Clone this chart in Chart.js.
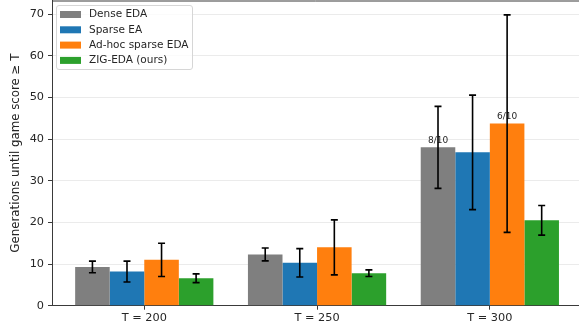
<!DOCTYPE html>
<html>
<head>
<meta charset="utf-8">
<script src="https://cdn.jsdelivr.net/npm/chart.js@4/dist/chart.umd.min.js"></script>
<style>
  html, body { margin: 0; padding: 0; background: #fff; }
  #c { display: block; }
</style>
</head>
<body>
<canvas id="c" width="579" height="331"></canvas>
<script>
// Score thresholds on the x axis
const categories = ['T = 200', 'T = 250', 'T = 300'];
const yTicks = [0, 10, 20, 30, 40, 50, 60, 70];

// Mean generations until the threshold is reached, with standard deviations
const denseEda      = [9.3, 12.3, 38.0];
const denseEdaSd    = [1.4, 1.55, 9.85];
const sparseEa      = [8.2, 10.3, 36.8];
const sparseEaSd    = [2.5, 3.4, 13.75];
const adhocEda      = [11.0, 14.0, 43.7];
const adhocEdaSd    = [4.0, 6.6, 26.1];
const zigEda        = [6.6, 7.8, 20.5];
const zigEdaSd      = [1.05, 0.8, 3.55];

// Runs that reached the threshold (shown only where not all 10 did)
const denseEdaRuns  = [null, null, '8/10'];
const sparseEaRuns  = [null, null, null];
const adhocEdaRuns  = [null, null, '6/10'];
const zigEdaRuns    = [null, null, null];

const FONT = '"DejaVu Sans", sans-serif';
const TEXT = '#262626';
const SPINE = '#3a3a3a';

function series(label, values, sd, runs, color) {
  return {
    label,
    data: values.map((v, i) => ({ x: i, y: v })),
    sd,
    runs,
    backgroundColor: color,
    borderWidth: 0,
    barPercentage: 1.0,
    categoryPercentage: 0.8
  };
}

// Error bars and run counts on top of the bars
const barExtras = {
  id: 'barExtras',
  afterDatasetsDraw(chart) {
    const ctx = chart.ctx;
    const y = chart.scales.y;
    chart.data.datasets.forEach((ds, di) => {
      const meta = chart.getDatasetMeta(di);
      meta.data.forEach((bar, i) => {
        const v = ds.data[i].y;
        if (ds.runs[i]) {
          ctx.save();
          ctx.font = '9px ' + FONT;
          ctx.fillStyle = TEXT;
          ctx.textAlign = 'center';
          ctx.textBaseline = 'bottom';
          ctx.fillText(ds.runs[i], bar.x, y.getPixelForValue(v) - 2);
          ctx.restore();
        }
        const top = y.getPixelForValue(v + ds.sd[i]);
        const bot = y.getPixelForValue(v - ds.sd[i]);
        ctx.save();
        ctx.strokeStyle = '#000';
        ctx.lineWidth = 1.6;
        ctx.beginPath();
        ctx.moveTo(bar.x, top); ctx.lineTo(bar.x, bot);
        ctx.moveTo(bar.x - 3.5, top); ctx.lineTo(bar.x + 3.5, top);
        ctx.moveTo(bar.x - 3.5, bot); ctx.lineTo(bar.x + 3.5, bot);
        ctx.stroke();
        ctx.restore();
      });
    });
  }
};

// Top frame line and the boxed legend inside the plot
const frameAndLegend = {
  id: 'frameAndLegend',
  afterDraw(chart) {
    const ctx = chart.ctx;
    const a = chart.chartArea;
    ctx.save();
    ctx.strokeStyle = SPINE;
    ctx.lineWidth = 1;
    ctx.beginPath();
    ctx.moveTo(a.left, a.top + 0.5);
    ctx.lineTo(a.right, a.top + 0.5);
    ctx.stroke();

    const x0 = 56.5, y0 = 5.5, w = 136, h = 64, r = 2.5;
    ctx.beginPath();
    ctx.moveTo(x0 + r, y0);
    ctx.arcTo(x0 + w, y0, x0 + w, y0 + h, r);
    ctx.arcTo(x0 + w, y0 + h, x0, y0 + h, r);
    ctx.arcTo(x0, y0 + h, x0, y0, r);
    ctx.arcTo(x0, y0, x0 + w, y0, r);
    ctx.closePath();
    ctx.fillStyle = 'rgba(255,255,255,0.8)';
    ctx.fill();
    ctx.strokeStyle = '#d6d6d6';
    ctx.lineWidth = 1;
    ctx.stroke();

    ctx.font = '10.5px ' + FONT;
    ctx.textBaseline = 'middle';
    ctx.textAlign = 'left';
    chart.data.datasets.forEach((ds, i) => {
      const cy = 14.5 + i * 15.3;
      ctx.fillStyle = ds.backgroundColor;
      ctx.fillRect(60, cy - 3.5, 21, 7);
      ctx.fillStyle = TEXT;
      ctx.fillText(ds.label, 89, cy);
    });
    ctx.restore();
  }
};

new Chart(document.getElementById('c'), {
  type: 'bar',
  data: {
    datasets: [
      series('Dense EDA', denseEda, denseEdaSd, denseEdaRuns, '#7f7f7f'),
      series('Sparse EA', sparseEa, sparseEaSd, sparseEaRuns, '#1f77b4'),
      series('Ad-hoc sparse EDA', adhocEda, adhocEdaSd, adhocEdaRuns, '#ff7f0e'),
      series('ZIG-EDA (ours)', zigEda, zigEdaSd, zigEdaRuns, '#2ca02c')
    ]
  },
  options: {
    responsive: false,
    animation: false,
    devicePixelRatio: 1,
    layout: { padding: { top: 0.5, right: 0, bottom: 0, left: 0 } },
    plugins: { legend: { display: false }, tooltip: { enabled: false } },
    scales: {
      x: {
        type: 'linear',
        min: -0.534,
        max: 2.516,
        offset: false,
        afterBuildTicks: s => { s.ticks = categories.map((_, i) => ({ value: i })); },
        afterFit: s => {
          s.height = 25.3;
          s.paddingLeft = 0; s.paddingRight = 0; s.paddingTop = 0; s.paddingBottom = 0;
        },
        ticks: {
          callback: v => categories[v],
          font: { family: FONT, size: 11.3 },
          color: TEXT,
          padding: 2,
          maxRotation: 0
        },
        grid: { offset: false, drawOnChartArea: false, drawTicks: true, tickLength: 4, tickColor: SPINE, tickWidth: 1 },
        border: { color: SPINE, width: 1 }
      },
      y: {
        min: 0,
        max: 73.25,
        afterBuildTicks: s => { s.ticks = yTicks.map(v => ({ value: v })); },
        afterFit: s => {
          s.width = 52;
          s.paddingLeft = 0; s.paddingRight = 0; s.paddingTop = 0; s.paddingBottom = 0;
        },
        ticks: {
          font: { family: FONT, size: 11.3 },
          color: TEXT,
          padding: 4
        },
        grid: { color: '#ebebeb', lineWidth: 1, drawTicks: true, tickLength: 4, tickColor: SPINE, tickWidth: 1 },
        border: { color: SPINE, width: 1 },
        title: {
          display: true,
          text: 'Generations until game score ≥ T',
          font: { family: FONT, size: 11.8 },
          color: TEXT,
          padding: { top: 9, bottom: 0 }
        }
      }
    }
  },
  plugins: [barExtras, frameAndLegend]
});
</script>
</body>
</html>
